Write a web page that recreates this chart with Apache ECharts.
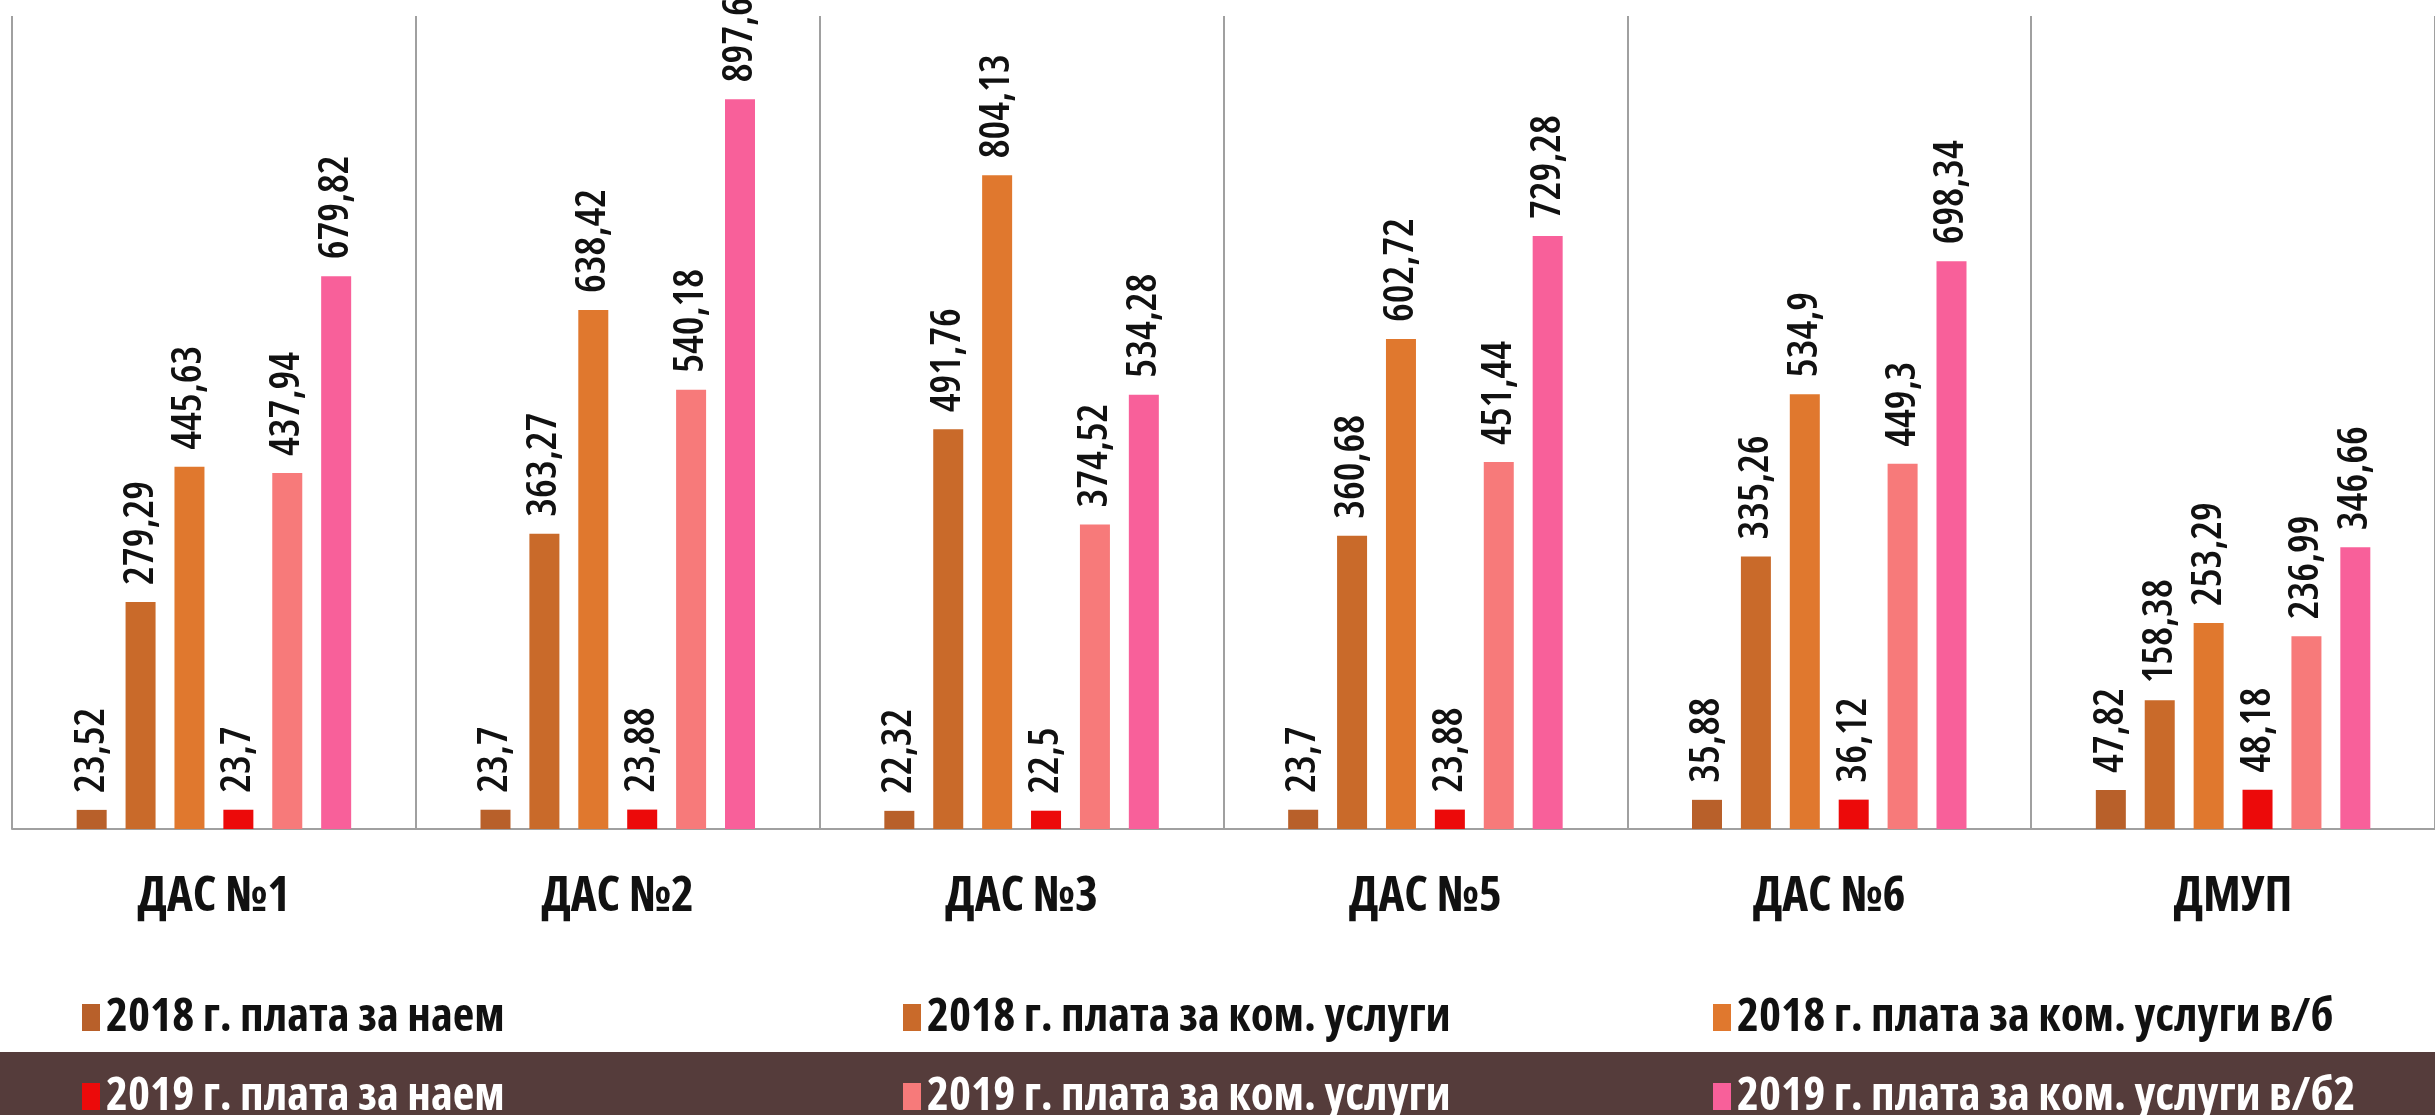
<!DOCTYPE html>
<html>
<head>
<meta charset="utf-8">
<script src="https://cdn.jsdelivr.net/npm/echarts@6/dist/echarts.min.js"></script>
<style>
html,body{margin:0;padding:0;background:#fff;}
#chart{width:2435px;height:1115px;}
</style>
</head>
<body>
<div id="chart"></div>
<script>
var categories = ['ДАС №1', 'ДАС №2', 'ДАС №3', 'ДАС №5', 'ДАС №6', 'ДМУП'];
var seriesNames = [
  '2018 г. плата за наем',
  '2018 г. плата за ком. услуги',
  '2018 г. плата за ком. услуги в/б',
  '2019 г. плата за наем',
  '2019 г. плата за ком. услуги',
  '2019 г. плата за ком. услуги в/б2'
];
var rent2018 = [23.52, 23.7, 22.32, 23.7, 35.88, 47.82];
var util2018 = [279.29, 363.27, 491.76, 360.68, 335.26, 158.38];
var utilVb2018 = [445.63, 638.42, 804.13, 602.72, 534.9, 253.29];
var rent2019 = [23.7, 23.88, 22.5, 23.88, 36.12, 48.18];
var util2019 = [437.94, 540.18, 374.52, 451.44, 449.3, 236.99];
var utilVb2019 = [679.82, 897.6, 534.28, 729.28, 698.34, 346.66];

var seriesData = [rent2018, util2018, utilVb2018, rent2019, util2019, utilVb2019];
var colors = ['#b8602a', '#c96a2a', '#e0782e', '#ec0a0a', '#f77a7a', '#f8609a'];

var FONT = "'Open Sans', 'DejaVu Sans Condensed', sans-serif";

var chart = echarts.init(document.getElementById('chart'));

var series = seriesData.map(function (d, i) {
  return {
    name: seriesNames[i],
    type: 'bar',
    data: d,
    barWidth: 30,
    barGap: '63%',
    itemStyle: { color: colors[i] },
    label: {
      show: true,
      position: 'top',
      rotate: 90,
      align: 'left',
      verticalAlign: 'middle',
      distance: 17,
      color: '#111',
      fontSize: 42,
      fontStyle: 'condensed',
      fontWeight: 600,
      fontFamily: FONT,
      formatter: function (p) { return String(p.value).replace('.', ','); }
    }
  };
});

var legendPos = [
  { left: 82, top: 994, color: '#111' },
  { left: 903, top: 994, color: '#111' },
  { left: 1713, top: 994, color: '#111' },
  { left: 82, top: 1073, color: '#fff' },
  { left: 903, top: 1073, color: '#fff' },
  { left: 1713, top: 1073, color: '#fff' }
];
var legends = legendPos.map(function (p, i) {
  return {
    data: [seriesNames[i]],
    left: p.left,
    top: p.top,
    padding: 0,
    icon: 'rect',
    itemWidth: 18,
    itemHeight: 27,
    selectedMode: false,
    textStyle: {
      color: p.color,
      fontSize: 47,
      fontStyle: 'condensed',
      fontWeight: 'bold',
      fontFamily: FONT,
      lineHeight: 40,
      padding: [0, 0, 0, 1]
    }
  };
});

chart.setOption({
  animation: false,
  backgroundColor: '#ffffff',
  graphic: [
    {
      type: 'rect',
      z: -10,
      shape: { x: 0, y: 1052, width: 2435, height: 63 },
      style: { fill: '#553c3b' }
    }
  ],
  grid: { left: 12, right: -2, top: 16, bottom: 286, containLabel: false },
  legend: legends,
  xAxis: {
    type: 'category',
    data: categories,
    axisLine: { show: true, lineStyle: { color: '#a0a0a0', width: 2 } },
    axisTick: { show: false },
    splitLine: { show: true, lineStyle: { color: '#a0a0a0', width: 2 } },
    axisLabel: {
      margin: 44,
      color: '#111',
      fontSize: 49,
      fontStyle: 'condensed',
      fontWeight: 'bold',
      fontFamily: FONT
    }
  },
  yAxis: {
    type: 'value',
    min: 0,
    max: 1000,
    show: false,
    splitLine: { show: false }
  },
  series: series
});
</script>
</body>
</html>
